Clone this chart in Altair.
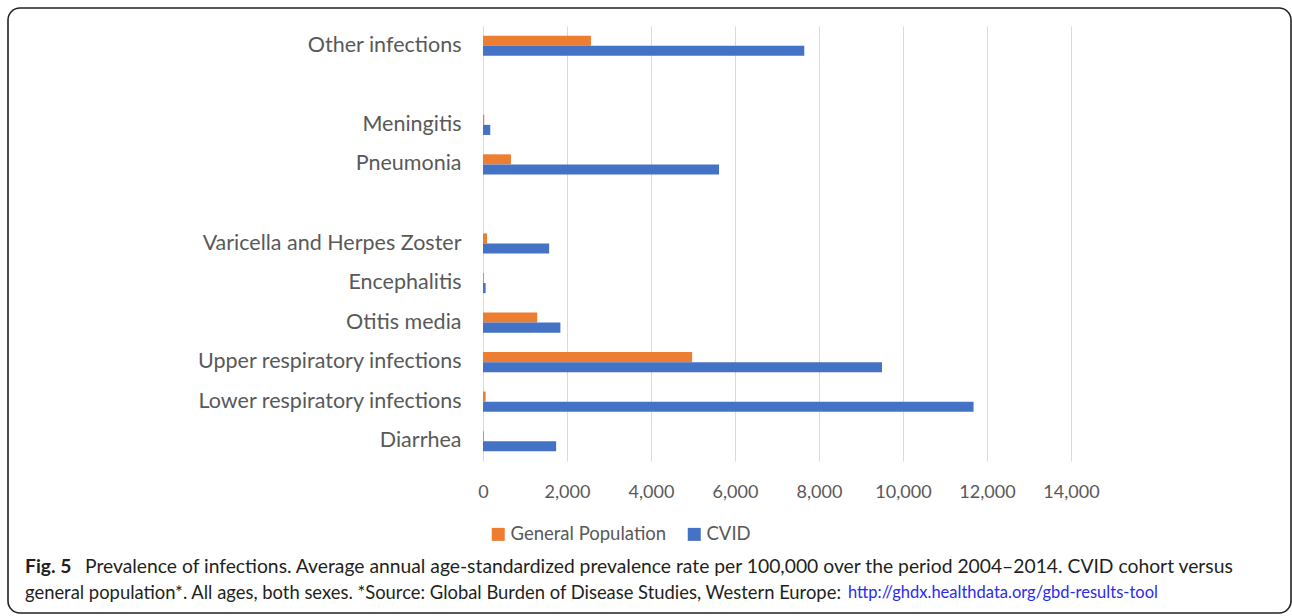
import altair as alt
import pandas as pd

# Prevalence per 100,000 (average annual, age-standardized, 2004-2014)
diseases = [
    "Other infections",
    "Meningitis",
    "Pneumonia",
    "Varicella and Herpes Zoster",
    "Encephalitis",
    "Otitis media",
    "Upper respiratory infections",
    "Lower respiratory infections",
    "Diarrhea",
]
general_population = [2570, 30, 665, 95, 20, 1290, 4980, 62, 20]
cvid = [7650, 173, 5620, 1575, 62, 1843, 9500, 11680, 1741]

# Row order top to bottom; whitespace keys are empty spacer rows
row_order = [
    "Other infections",
    " ",
    "Meningitis",
    "Pneumonia",
    "  ",
    "Varicella and Herpes Zoster",
    "Encephalitis",
    "Otitis media",
    "Upper respiratory infections",
    "Lower respiratory infections",
    "Diarrhea",
]
series_names = ["General Population", "CVID"]
series_colors = ["#ED7D31", "#4472C4"]
x_ticks = [0, 2000, 4000, 6000, 8000, 10000, 12000, 14000]

rows = []
for d, g, c in zip(diseases, general_population, cvid):
    rows.append({"disease": d, "series": "General Population", "value": g})
    rows.append({"disease": d, "series": "CVID", "value": c})
df = pd.DataFrame(rows)

W, H = 588, 435
LEFT, TOP = 483, 26
FONT = "Lato"
CAP_FONT = "Lato"

bars = alt.Chart(df).mark_bar().encode(
    x=alt.X(
        "value:Q",
        scale=alt.Scale(domain=[0, 14000], nice=False),
        axis=alt.Axis(
            values=x_ticks,
            format=",.0f",
            title=None,
            domain=False,
            ticks=False,
            grid=True,
            gridColor="#d9d9d9",
            gridWidth=1,
            labelFont=FONT,
            labelFontSize=18,
            labelColor="#595959",
            labelPadding=22,
            labelOverlap=False,
            labelFlush=False,
        ),
    ),
    y=alt.Y(
        "disease:N",
        scale=alt.Scale(domain=row_order, paddingInner=0.49, paddingOuter=0.245),
        axis=alt.Axis(
            title=None,
            domain=False,
            ticks=False,
            grid=False,
            labelFont=FONT,
            labelFontSize=21.5,
            labelColor="#595959",
            labelPadding=22,
            labelLimit=400,
        ),
    ),
    yOffset=alt.YOffset("series:N", sort=series_names, scale=alt.Scale(domain=series_names, paddingInner=0, paddingOuter=0)),
    color=alt.Color(
        "series:N",
        scale=alt.Scale(domain=series_names, range=series_colors),
        legend=alt.Legend(
            title=None,
            orient="none",
            legendX=6,
            legendY=499,
            direction="horizontal",
            symbolType="square",
            symbolSize=169,
            symbolStrokeWidth=0,
            labelFont=FONT,
            labelFontSize=18.5,
            labelColor="#595959",
            labelOffset=3,
            labelLimit=400,
            columnPadding=18,
        ),
    ),
)

one = alt.Data(values=[{}])

frame = alt.Chart(one).mark_rect(
    fill=None, stroke="#222222", strokeWidth=1.6, cornerRadius=12
).encode(
    x=alt.value(8 - LEFT), x2=alt.value(1291 - LEFT),
    y=alt.value(8 - TOP), y2=alt.value(613 - TOP),
)

fig_label = alt.Chart(one).mark_text(
    align="left", baseline="middle", font=CAP_FONT, fontSize=19.3, fontWeight="bold", color="#231f20"
).encode(x=alt.value(25 - LEFT), y=alt.value(567 - TOP), text=alt.value("Fig. 5"))

line1 = alt.Chart(one).mark_text(
    align="left", baseline="middle", font=CAP_FONT, fontSize=19.3, color="#231f20"
).encode(
    x=alt.value(85 - LEFT), y=alt.value(567 - TOP),
    text=alt.value("Prevalence of infections. Average annual age-standardized prevalence rate per 100,000 over the period 2004\u20132014. CVID cohort versus"),
)

line2 = alt.Chart(one).mark_text(
    align="left", baseline="middle", font=CAP_FONT, fontSize=18.4, color="#231f20"
).encode(
    x=alt.value(25 - LEFT), y=alt.value(593 - TOP),
    text=alt.value("general population*. All ages, both sexes. *Source: Global Burden of Disease Studies, Western Europe:"),
)

link = alt.Chart(one).mark_text(
    align="left", baseline="middle", font=CAP_FONT, fontSize=16.5, color="#2b2bf0"
).encode(
    x=alt.value(848 - LEFT), y=alt.value(593 - TOP),
    text=alt.value("http://ghdx.healthdata.org/gbd-results-tool"),
)

chart = alt.layer(bars, frame, fig_label, line1, line2, link).properties(
    width=W,
    height=H,
    autosize=alt.AutoSizeParams(type="none"),
    padding={"left": LEFT, "top": TOP, "right": 1292 - LEFT - W, "bottom": 616 - TOP - H},
    background="white",
).configure_view(stroke=None)

chart.save("out.html", embed_options={"renderer": "svg", "actions": False})
